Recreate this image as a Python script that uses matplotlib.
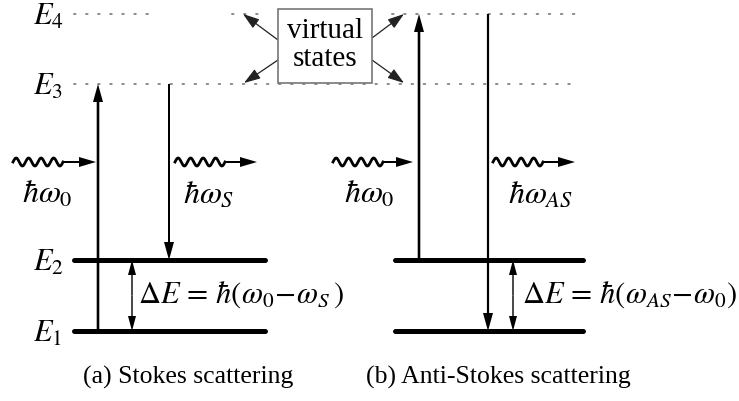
import numpy as np
import matplotlib
matplotlib.use('Agg')
import matplotlib.pyplot as plt
from matplotlib.patches import Rectangle

plt.rcParams['mathtext.fontset'] = 'stix'
plt.rcParams['font.family'] = ['Liberation Serif', 'DejaVu Serif']

# energy levels (pixel rows of the diagram)
level_names = ['$E_1$', '$E_2$', '$E_3$', '$E_4$']
level_y = [331, 260, 84, 14]

captions = ['(a) Stokes scattering', '(b) Anti-Stokes scattering']
photon_in = [r'$\hbar\omega_0$', r'$\hbar\omega_0$']
photon_out = [r'$\hbar\omega_S$', r'$\hbar\omega_{AS}$']
delta_text = [r'$\Delta E\, =\, \hbar(\omega_0\!-\!\omega_S\,)$',
              r'$\Delta E\, =\, \hbar(\omega_{AS}\!-\!\omega_0)$']

W, H = 739, 401
fig = plt.figure(figsize=(W / 100, H / 100), dpi=100)
ax = fig.add_axes([0, 0, 1, 1])
ax.set_xlim(0, W)
ax.set_ylim(H, 0)
ax.axis('off')

E1, E2, E3, E4 = level_y

# --- level labels ---
for name, y in zip(level_names, level_y):
    ax.text(48, y + 3, name, ha='center', va='center', fontsize=22)

# --- virtual (dotted) levels ---
dot_kw = dict(color='#8a8a8a', lw=1.4, dashes=(0.8, 5.4), dash_capstyle='round')
ax.plot([74, 577], [E3, E3], **dot_kw)
ax.plot([74, 156], [E4, E4], **dot_kw)
ax.plot([232, 262], [E4, E4], **dot_kw)
ax.plot([392, 577], [E4, E4], **dot_kw)

# --- real (solid) levels ---
for x0, x1 in [(74, 265), (395, 583)]:
    for y in (E1, E2):
        ax.plot([x0, x1], [y, y], color='black', lw=3.6, solid_capstyle='round')


def arrow(x, y0, y1, lw=2.6):
    ax.arrow(x, y0, 0, y1 - y0, width=lw, head_width=10, head_length=18,
             length_includes_head=True, fc='black', ec='none', zorder=3)


def double_arrow(x, y0, y1):
    for ya, yb in [(y0, y1), (y1, y0)]:
        ax.arrow(x, (ya + yb) / 2, 0, yb - (ya + yb) / 2, width=1.4, head_width=8,
                 head_length=15, length_includes_head=True, fc='black', ec='none')


def wavy(x0, x1, y):
    xw = np.linspace(x0, x0 + 50, 200)
    yw = y - 4 * np.sin((xw - x0) / 50 * 4 * 2 * np.pi)
    ax.plot(xw, yw, color='black', lw=2.0)
    ax.arrow(x0 + 50, y, x1 - x0 - 50, 0, width=2.0, head_width=10, head_length=17,
             length_includes_head=True, fc='black', ec='none')


# (a) Stokes
arrow(98, E1, E3)
arrow(169, E3, E2, lw=2.0)
double_arrow(132, E2, E1)
wavy(13, 96, 162)
wavy(175, 257, 162)
ax.text(47, 195, photon_in[0], ha='center', va='center', fontsize=23)
ax.text(209, 195, photon_out[0], ha='center', va='center', fontsize=23)
ax.text(241, 295, delta_text[0], ha='center', va='center', fontsize=22)

# (b) Anti-Stokes
arrow(419, E2, E4)
arrow(488, E4, E1, lw=2.2)
double_arrow(513, E2, E1)
wavy(333, 413, 162)
wavy(493, 575, 162)
ax.text(369, 195, photon_in[1], ha='center', va='center', fontsize=23)
ax.text(541, 195, photon_out[1], ha='center', va='center', fontsize=23)
ax.text(630, 295, delta_text[1], ha='center', va='center', fontsize=22)

# captions
ax.text(188, 377, captions[0], ha='center', va='center', fontsize=18.5)
ax.text(498, 377, captions[1], ha='center', va='center', fontsize=18.5)

# virtual states box
ax.add_patch(Rectangle((278, 9), 94, 74, fc='white', ec='#777777', lw=1.2, zorder=4))
ax.text(325, 31, 'virtual', ha='center', va='center', fontsize=21, zorder=5)
ax.text(325, 59, 'states', ha='center', va='center', fontsize=21, zorder=5)
for (xs, ys), (xe, ye) in [((278, 40), (243, 14)), ((278, 60), (244, 83)),
                           ((372, 38), (404, 14)), ((372, 60), (404, 83))]:
    ax.annotate('', xy=(xe, ye), xytext=(xs, ys),
                arrowprops=dict(arrowstyle='-|>,head_length=0.9,head_width=0.3',
                                mutation_scale=11, lw=0.9, color='#222222',
                                shrinkA=0, shrinkB=0))

fig.savefig('out.png', dpi=100)
